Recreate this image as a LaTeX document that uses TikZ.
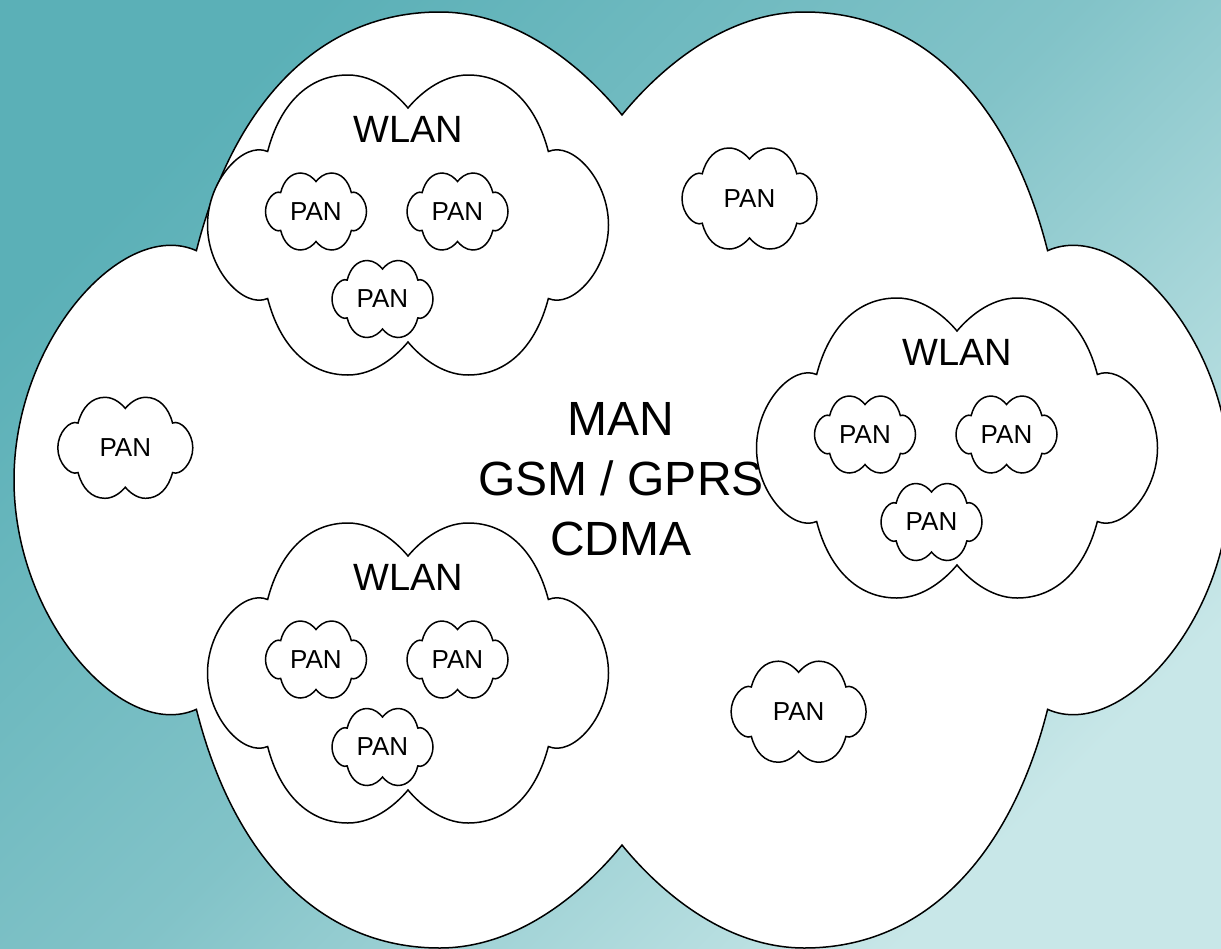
\documentclass[tikz,border=0pt]{standalone}
\usepackage{fontspec}
\setmainfont{Liberation Sans}

\definecolor{bgTL}{RGB}{91,176,183}
\definecolor{bgMid}{RGB}{130,195,200}
\definecolor{bgBR}{RGB}{200,231,232}

% diagonal teal backdrop
\pgfdeclarehorizontalshading{bggrad}{100bp}{%
  color(0bp)=(bgTL); color(25bp)=(bgTL); color(50bp)=(bgMid);
  color(75bp)=(bgBR); color(100bp)=(bgBR)}

% six-lobed cloud outline: centre (#1,#2), half width #3, half height #4
\newcommand\netcloud[4]{%
  \filldraw[cloudline, shift={(#1,#2)}, x=#3pt, y=#4pt]
    (0,0.78) .. controls (-0.05,0.86) and (-0.16,1.0) .. (-0.30,1.0)
             .. controls (-0.50,1.0) and (-0.64,0.80) .. (-0.70,0.49)
             .. controls (-0.82,0.56) and (-1.0,0.30) .. (-1,0)
             .. controls (-1.0,-0.30) and (-0.82,-0.56) .. (-0.70,-0.49)
             .. controls (-0.64,-0.80) and (-0.50,-1.0) .. (-0.30,-1.0)
             .. controls (-0.16,-1.0) and (-0.05,-0.86) .. (0,-0.78)
             .. controls (0.05,-0.86) and (0.16,-1.0) .. (0.30,-1.0)
             .. controls (0.50,-1.0) and (0.64,-0.80) .. (0.70,-0.49)
             .. controls (0.82,-0.56) and (1.0,-0.30) .. (1,0)
             .. controls (1.0,0.30) and (0.82,0.56) .. (0.70,0.49)
             .. controls (0.64,0.80) and (0.50,1.0) .. (0.30,1.0)
             .. controls (0.16,1.0) and (0.05,0.86) .. (0,0.78) -- cycle;}

% a small PAN cloud with its label: name, centre x, centre y, half width, half height
\newcommand\pancloud[5]{%
  \netcloud{#2}{#3}{#4}{#5}%
  \node[pantext] (#1) at ($(#2,#3)+(0,8.8)$) {PAN};}

% a WLAN cloud holding three PAN clouds: name prefix, centre x, centre y
\newcommand\wlancloud[3]{%
  \netcloud{#2}{#3}{200.5}{150}%
  \node[wlantext] (#1) at ($(#2,#3)+(0.5,-82.3)$) {WLAN};
  \pancloud{#1a}{\fpeval{#2-92}}{\fpeval{#3-13.5}}{50.5}{38.5}
  \pancloud{#1b}{\fpeval{#2+49.5}}{\fpeval{#3-13.5}}{50.5}{38.5}
  \pancloud{#1c}{\fpeval{#2-25.5}}{\fpeval{#3+74}}{50.5}{38.5}}

\usetikzlibrary{calc}

\begin{document}
\begin{tikzpicture}[x=1pt, y=-1pt,
  cloudline/.style={draw=black, fill=white, line width=1.5pt, line join=miter},
  pantext/.style={font=\fontsize{26}{30}\selectfont, inner sep=0pt, anchor=base},
  wlantext/.style={font=\fontsize{38}{44}\selectfont, inner sep=0pt, anchor=base},
  mantext/.style={font=\fontsize{48}{58}\selectfont, inner sep=0pt, anchor=base}]

  \shade[shading=bggrad, shading angle=-45] (0,0) rectangle (1221,948);
  \useasboundingbox (0,0) rectangle (1221,948);

  % metropolitan network
  \netcloud{622}{480}{608}{468}
  \node[mantext] (man)  at (621,435) {MAN};
  \node[mantext] (gsm)  at (621,495) {GSM / GPRS};
  \node[mantext] (cdma) at (621,555) {CDMA};

  % stand-alone personal networks
  \pancloud{panA}{749.5}{198.5}{67.5}{50.5}
  \pancloud{panB}{125.3}{447.8}{67.5}{50.5}
  \pancloud{panC}{798.6}{711.7}{67.5}{50.5}

  % wireless LANs
  \wlancloud{wlanA}{408}{225}
  \wlancloud{wlanB}{408}{673}
  \wlancloud{wlanC}{957}{448}
\end{tikzpicture}
\end{document}
